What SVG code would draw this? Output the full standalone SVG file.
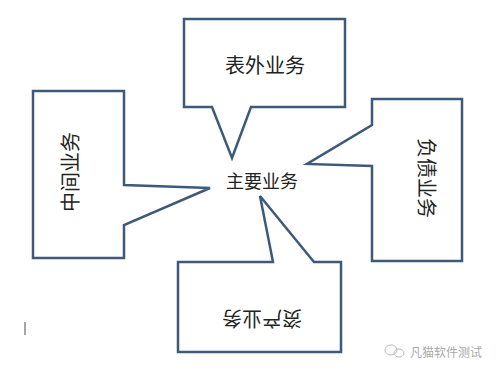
<svg xmlns="http://www.w3.org/2000/svg" width="500" height="373" viewBox="0 0 500 373">
<style>
.c{fill:#fff;stroke:#3e5a7a;stroke-width:2.5;stroke-linejoin:miter}
.t{font-family:"Liberation Serif","Noto Sans CJK SC",serif;fill:#222;text-anchor:middle}
.w{font-family:"Noto Sans CJK SC",sans-serif;fill:#aaa;font-size:12px}
</style>
<rect width="500" height="373" fill="#fff"/>
<g id="top">
<path class="c" d="M184,19 H345 V107 H251 L232,158 L212,107 H184 Z"/>
<text class="t" x="265" y="73" font-size="20">表外业务</text>
</g>
<g id="left">
<path class="c" d="M33,91 H124 V185 L210,188 L124,225 V258 H33 Z"/>
<text class="t" font-size="20" transform="translate(71,172) rotate(-90)" y="7">中间业务</text>
</g>
<g id="right">
<path class="c" d="M372,99 H462 V261 H372 V166 L307,164 L372,125 Z"/>
<text class="t" font-size="20" transform="translate(426,178) rotate(90)" y="7">负债业务</text>
</g>
<g id="bottom">
<path class="c" d="M178,262 H273 L260,196 L314,262 H341 V352 H178 Z"/>
<text class="t" font-size="20" transform="translate(262,318) rotate(180)" y="7">资产业务</text>
</g>
<g id="center">
<text class="t" x="262" y="188" font-size="18">主要业务</text>
</g>
<g id="connectors"></g>
<line x1="25" y1="322" x2="25" y2="335" stroke="#888" stroke-width="1.5"/>
<g id="watermark">
<ellipse cx="391" cy="350" rx="6" ry="5" fill="none" stroke="#bbb" stroke-width="1"/>
<ellipse cx="399" cy="353" rx="5" ry="4" fill="none" stroke="#bbb" stroke-width="1"/>
<text class="w" x="410" y="357">凡猫软件测试</text>
</g>
</svg>
